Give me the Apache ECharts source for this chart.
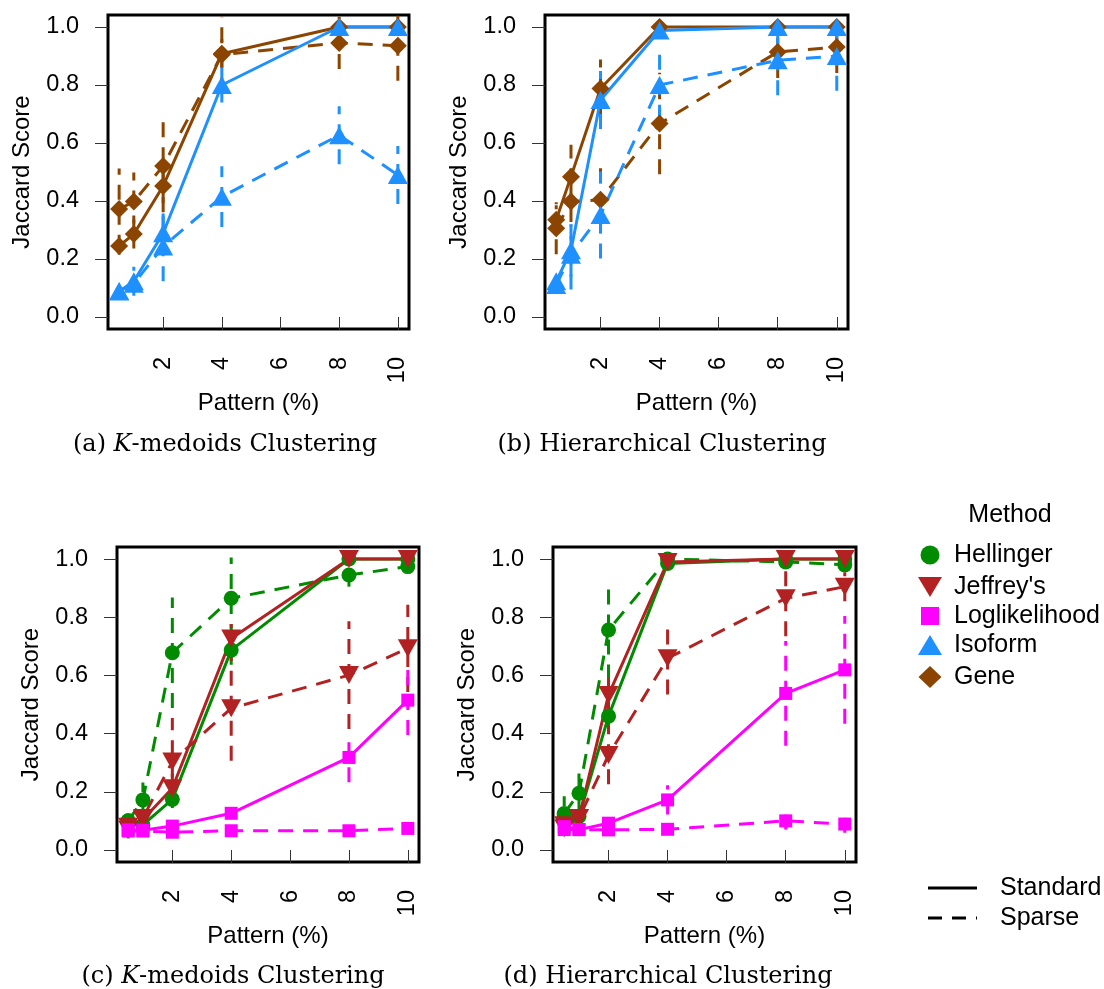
<!DOCTYPE html>
<html><head><meta charset="utf-8">
<script src="https://cdn.jsdelivr.net/npm/echarts@6/dist/echarts.min.js"></script>
<style>html,body{margin:0;padding:0;background:#fff}#c{width:1104px;height:989px}</style>
</head><body><div id="c"></div>
<script>
// ---- data ----
const xValues = [0.5, 1, 2, 4, 8, 10];
const xTicks = [2, 4, 6, 8, 10];
const yTicks = [0, 0.2, 0.4, 0.6, 0.8, 1.0];
const methods = ['Hellinger', "Jeffrey's", 'Loglikelihood', 'Isoform', 'Gene'];
const captions = ['(a) {i|K}-medoids Clustering', '(b) Hierarchical Clustering', '(c) {i|K}-medoids Clustering', '(d) Hierarchical Clustering'];

// panel (a) K-medoids: Isoform / Gene
const aGeneStd = [0.245, 0.286, 0.452, 0.908, 1.0, 1.0];
const aGeneStdErr = [0.03, 0.05, 0.06, 0.05, 0.0, 0.0];
const aGeneSparse = [0.372, 0.398, 0.521, 0.905, 0.945, 0.935];
const aGeneSparseErr = [0.14, 0.10, 0.16, 0.13, 0.09, 0.12];
const aIsoStd = [0.088, 0.123, 0.289, 0.80, 1.0, 1.0];
const aIsoStdErr = [0.02, 0.05, 0.07, 0.06, 0.0, 0.0];
const aIsoSparse = [0.09, 0.115, 0.243, 0.415, 0.627, 0.49];
const aIsoSparseErr = [0.02, 0.03, 0.12, 0.105, 0.10, 0.10];

// panel (b) Hierarchical: Isoform / Gene
const bGeneStd = [0.335, 0.484, 0.788, 1.0, 1.0, 1.0];
const bGeneStdErr = [0.05, 0.11, 0.10, 0.0, 0.0, 0.03];
const bGeneSparse = [0.306, 0.398, 0.404, 0.667, 0.914, 0.931];
const bGeneSparseErr = [0.09, 0.07, 0.115, 0.175, 0.09, 0.09];
const bIsoStd = [0.123, 0.23, 0.748, 0.988, 1.0, 1.0];
const bIsoStdErr = [0.04, 0.09, 0.10, 0.02, 0.0, 0.0];
const bIsoSparse = [0.11, 0.215, 0.352, 0.80, 0.885, 0.90];
const bIsoSparseErr = [0.03, 0.12, 0.15, 0.12, 0.12, 0.12];

// panel (c) K-medoids: Hellinger / Jeffrey's / Loglikelihood
const cHelStd = [0.10, 0.086, 0.174, 0.687, 1.0, 1.0];
const cHelStdErr = [0.02, 0.02, 0.03, 0.05, 0.0, 0.0];
const cHelSparse = [0.10, 0.172, 0.678, 0.865, 0.945, 0.974];
const cHelSparseErr = [0.03, 0.06, 0.19, 0.14, 0.04, 0.02];
const cJefStd = [0.08, 0.105, 0.212, 0.727, 1.0, 1.0];
const cJefStdErr = [0.03, 0.03, 0.05, 0.05, 0.0, 0.0];
const cJefSparse = [0.07, 0.11, 0.304, 0.487, 0.601, 0.693];
const cJefSparseErr = [0.03, 0.04, 0.15, 0.18, 0.185, 0.15];
const cLogStd = [0.069, 0.068, 0.082, 0.126, 0.318, 0.515];
const cLogStdErr = [0.01, 0.01, 0.01, 0.02, 0.085, 0.12];
const cLogSparse = [0.065, 0.065, 0.061, 0.066, 0.066, 0.074];
const cLogSparseErr = [0.01, 0.01, 0.01, 0.01, 0.01, 0.01];

// panel (d) Hierarchical: Hellinger / Jeffrey's / Loglikelihood
const dHelStd = [0.12, 0.115, 0.46, 0.985, 1.0, 1.0];
const dHelStdErr = [0.02, 0.02, 0.05, 0.01, 0.0, 0.0];
const dHelSparse = [0.125, 0.195, 0.756, 1.0, 0.99, 0.98];
const dHelSparseErr = [0.06, 0.07, 0.17, 0.01, 0.01, 0.02];
const dJefStd = [0.085, 0.11, 0.533, 0.99, 1.0, 1.0];
const dJefStdErr = [0.03, 0.03, 0.08, 0.01, 0.0, 0.0];
const dJefSparse = [0.075, 0.11, 0.326, 0.659, 0.865, 0.905];
const dJefSparseErr = [0.02, 0.03, 0.10, 0.125, 0.13, 0.05];
const dLogStd = [0.08, 0.07, 0.092, 0.172, 0.538, 0.619];
const dLogStdErr = [0.01, 0.01, 0.01, 0.05, 0.18, 0.185];
const dLogSparse = [0.07, 0.07, 0.069, 0.071, 0.10, 0.089];
const dLogSparseErr = [0.01, 0.01, 0.01, 0.01, 0.03, 0.03];

// ---- styles ----
const FONT = 'Liberation Sans';
const COLORS = { Hellinger: '#008B00', "Jeffrey's": '#B22222', Loglikelihood: '#FF00FF', Isoform: '#1E90FF', Gene: '#8B4500' };
const SYMBOLS = {
  Hellinger: { symbol: 'circle', size: 15, rotate: 0 },
  "Jeffrey's": { symbol: 'triangle', size: [20, 18], rotate: 180 },
  Loglikelihood: { symbol: 'rect', size: 13, rotate: 0 },
  Isoform: { symbol: 'triangle', size: [20, 18], rotate: 0 },
  Gene: { symbol: 'diamond', size: [18, 18], rotate: 0 }
};
const DASH = [15, 10];

const panels = [
  { grid: { left: 108, top: 15, width: 301, height: 314 }, cap: [225, 445],
    series: [
      ['Gene', 'std', aGeneStd, aGeneStdErr], ['Gene', 'sparse', aGeneSparse, aGeneSparseErr],
      ['Isoform', 'std', aIsoStd, aIsoStdErr], ['Isoform', 'sparse', aIsoSparse, aIsoSparseErr]] },
  { grid: { left: 545, top: 15, width: 303, height: 314 }, cap: [662, 445],
    series: [
      ['Gene', 'std', bGeneStd, bGeneStdErr], ['Gene', 'sparse', bGeneSparse, bGeneSparseErr],
      ['Isoform', 'std', bIsoStd, bIsoStdErr], ['Isoform', 'sparse', bIsoSparse, bIsoSparseErr]] },
  { grid: { left: 117, top: 547, width: 302, height: 315 }, cap: [233, 977],
    series: [
      ['Hellinger', 'std', cHelStd, cHelStdErr], ['Hellinger', 'sparse', cHelSparse, cHelSparseErr],
      ["Jeffrey's", 'std', cJefStd, cJefStdErr], ["Jeffrey's", 'sparse', cJefSparse, cJefSparseErr],
      ['Loglikelihood', 'std', cLogStd, cLogStdErr], ['Loglikelihood', 'sparse', cLogSparse, cLogSparseErr]] },
  { grid: { left: 553, top: 547, width: 303, height: 315 }, cap: [668, 977],
    series: [
      ['Hellinger', 'std', dHelStd, dHelStdErr], ['Hellinger', 'sparse', dHelSparse, dHelSparseErr],
      ["Jeffrey's", 'std', dJefStd, dJefStdErr], ["Jeffrey's", 'sparse', dJefSparse, dJefSparseErr],
      ['Loglikelihood', 'std', dLogStd, dLogStdErr], ['Loglikelihood', 'sparse', dLogSparse, dLogSparseErr]] }
];

const grids = [], xAxes = [], yAxes = [], series = [], graphics = [];
const fmt = v => Number(v).toFixed(1);

panels.forEach((p, i) => {
  grids.push(Object.assign({ show: true, borderColor: '#000', borderWidth: 3, backgroundColor: 'transparent' }, p.grid));
  xAxes.push({
    type: 'value', gridIndex: i, min: 0.12, max: 10.38,
    name: 'Pattern (%)', nameLocation: 'middle', nameGap: 62,
    nameTextStyle: { fontFamily: FONT, fontSize: 24, color: '#000' },
    axisLine: { show: false },
    axisTick: { show: true, length: 13, customValues: xTicks, lineStyle: { color: '#333', width: 1 } },
    axisLabel: { customValues: xTicks, rotate: 90, margin: 28, fontFamily: FONT, fontSize: 23.5, color: '#000' },
    splitLine: { show: false }
  });
  yAxes.push({
    type: 'value', gridIndex: i, min: -0.0414, max: 1.0414,
    name: 'Jaccard Score', nameLocation: 'middle', nameGap: 74,
    nameTextStyle: { fontFamily: FONT, fontSize: 24, color: '#000' },
    axisLine: { show: false },
    axisTick: { show: true, length: 13, customValues: yTicks, lineStyle: { color: '#333', width: 1 } },
    axisLabel: { customValues: yTicks, formatter: fmt, margin: 29, fontFamily: FONT, fontSize: 23.5, color: '#000' },
    splitLine: { show: false }
  });
  // error bars first
  p.series.forEach(([m, kind, vals, errs]) => {
    series.push({
      type: 'custom', xAxisIndex: i, yAxisIndex: i, clip: true, z: 2, silent: true,
      data: xValues.map((x, k) => [x, vals[k] - errs[k], vals[k] + errs[k]]),
      renderItem: (params, api) => {
        const a = api.coord([api.value(0), api.value(1)]);
        const b = api.coord([api.value(0), api.value(2)]);
        return { type: 'line', shape: { x1: a[0], y1: a[1], x2: b[0], y2: b[1] },
          style: { stroke: COLORS[m], lineWidth: 3, lineDash: DASH } };
      }
    });
  });
  p.series.forEach(([m, kind, vals]) => {
    const s = SYMBOLS[m];
    series.push({
      type: 'line', xAxisIndex: i, yAxisIndex: i, z: 3, clip: true,
      data: xValues.map((x, k) => [x, vals[k]]),
      symbol: s.symbol, symbolSize: s.size, symbolRotate: s.rotate, showAllSymbol: true,
      itemStyle: { color: COLORS[m], borderWidth: 0 },
      lineStyle: { color: COLORS[m], width: 3, type: kind === 'std' ? 'solid' : DASH }
    });
  });
  graphics.push({
    type: 'text', x: p.cap[0], y: p.cap[1],
    style: { text: captions[i], fontFamily: 'DejaVu Serif', fontSize: 24, fill: '#000', align: 'center', verticalAlign: 'middle',
      rich: { i: { fontFamily: 'DejaVu Serif', fontStyle: 'italic', fontSize: 24 } } }
  });
});

// legend
const LX = 930, LT = 1000;
graphics.push({ type: 'text', x: 1010, y: 515, style: { text: 'Method', fontFamily: FONT, fontSize: 25, fill: '#000', align: 'center', verticalAlign: 'middle' } });
const legY = [555, 587, 616, 645, 677];
methods.forEach((m, k) => {
  const y = legY[k], c = COLORS[m];
  let shape;
  if (m === 'Hellinger') shape = { type: 'circle', shape: { cx: LX, cy: y, r: 9.5 }, style: { fill: c } };
  else if (m === "Jeffrey's") shape = { type: 'polygon', shape: { points: [[LX - 12, y - 10], [LX + 12, y - 10], [LX, y + 10]] }, style: { fill: c } };
  else if (m === 'Loglikelihood') shape = { type: 'rect', shape: { x: LX - 9, y: y - 9, width: 18, height: 18 }, style: { fill: c } };
  else if (m === 'Isoform') shape = { type: 'polygon', shape: { points: [[LX - 12, y + 10], [LX + 12, y + 10], [LX, y - 10]] }, style: { fill: c } };
  else shape = { type: 'polygon', shape: { points: [[LX - 11.5, y], [LX, y - 11], [LX + 11.5, y], [LX, y + 11]] }, style: { fill: c } };
  graphics.push(shape);
  graphics.push({ type: 'text', x: 954, y: y, style: { text: m, fontFamily: FONT, fontSize: 25, fill: '#000', align: 'left', verticalAlign: 'middle' } });
});
const lineLeg = [['Standard', 888, 'solid'], ['Sparse', 918, 'dash']];
lineLeg.forEach(([t, y, kind]) => {
  graphics.push({ type: 'line', shape: { x1: 928, y1: y, x2: 977, y2: y }, style: { stroke: '#000', lineWidth: 3, lineDash: kind === 'solid' ? null : [14, 10] } });
  graphics.push({ type: 'text', x: LT, y: y, style: { text: t, fontFamily: FONT, fontSize: 25, fill: '#000', align: 'left', verticalAlign: 'middle' } });
});

const chart = echarts.init(document.getElementById('c'), null, { renderer: 'canvas' });
chart.setOption({
  animation: false,
  backgroundColor: '#fff',
  textStyle: { fontFamily: FONT },
  grid: grids, xAxis: xAxes, yAxis: yAxes, series: series, graphic: graphics
});
</script>
</body></html>
